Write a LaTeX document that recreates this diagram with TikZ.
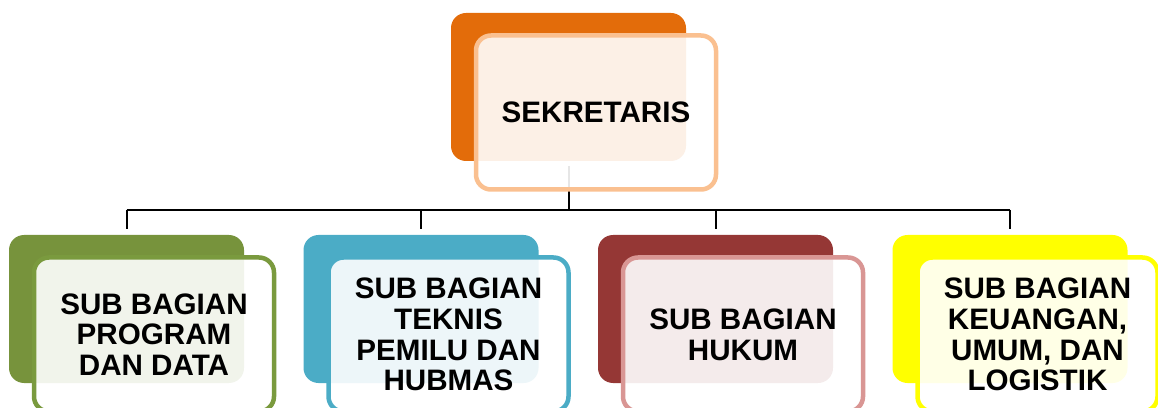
\documentclass[tikz,border=0pt]{standalone}
\usepackage{fontspec}
\setmainfont{Liberation Sans}
\begin{document}
\begin{tikzpicture}[x=1pt,y=1pt,
  backbox/.style={rectangle,rounded corners=15pt,minimum width=235pt,minimum height=148pt,inner sep=0pt,fill=#1},
  frontbox/.style={rectangle,rounded corners=15pt,minimum width=240pt,minimum height=154pt,inner sep=0pt,
    draw=#1,line width=4.5pt,fill=white,fill opacity=0.9,text opacity=1,align=center,
    font=\bfseries\fontsize{29.6}{30.8}\selectfont},
  conn/.style={draw=black,line width=2pt}]
\useasboundingbox (0,0) rectangle (1158,407);
\clip (0,0) rectangle (1158,407);
\definecolor{orgA}{HTML}{E36C0A}\definecolor{orgB}{HTML}{FAC090}
\definecolor{grnA}{HTML}{77933C}\definecolor{grnB}{HTML}{7A9A3E}
\definecolor{bluA}{HTML}{4BACC6}\definecolor{bluB}{HTML}{4BACC6}
\definecolor{redA}{HTML}{953735}\definecolor{redB}{HTML}{D99694}
\definecolor{ylwA}{HTML}{FFFF00}\definecolor{ylwB}{HTML}{FFFF00}
% top
\node[backbox=orgA] (tb) at (568.5,320) {};
\coordinate (bus) at (568.5,197);
\draw[conn] ([yshift=-5pt]tb.south) -- (bus);
\node[frontbox=orgB] (tf) at (596,294.5) {SEKRETARIS};
% bus line
\coordinate (bl) at (126.5,197);
\coordinate (br) at (1010,197);
\draw[conn] (bl) -- (br);
% children
\node[backbox=grnA] (c1b) at (126.5,98) {};
\node[backbox=bluA] (c2b) at (421,98) {};
\node[backbox=redA] (c3b) at (715.5,98) {};
\node[backbox=ylwA] (c4b) at (1010,98) {};
\foreach \n in {c1b,c2b,c3b,c4b}{
  \draw[conn] (\n.north |- bus) -- ([yshift=6pt]\n.north);
}
\node[frontbox=grnB] (c1f) at (154,72.5) {SUB BAGIAN\\PROGRAM\\DAN DATA};
\node[frontbox=bluB] (c2f) at (448.5,72.5) {SUB BAGIAN\\TEKNIS\\PEMILU DAN\\HUBMAS};
\node[frontbox=redB] (c3f) at (743,72.5) {SUB BAGIAN\\HUKUM};
\node[frontbox=ylwB] (c4f) at (1037.5,72.5) {SUB BAGIAN\\KEUANGAN,\\UMUM, DAN\\LOGISTIK};
\end{tikzpicture}
\end{document}
